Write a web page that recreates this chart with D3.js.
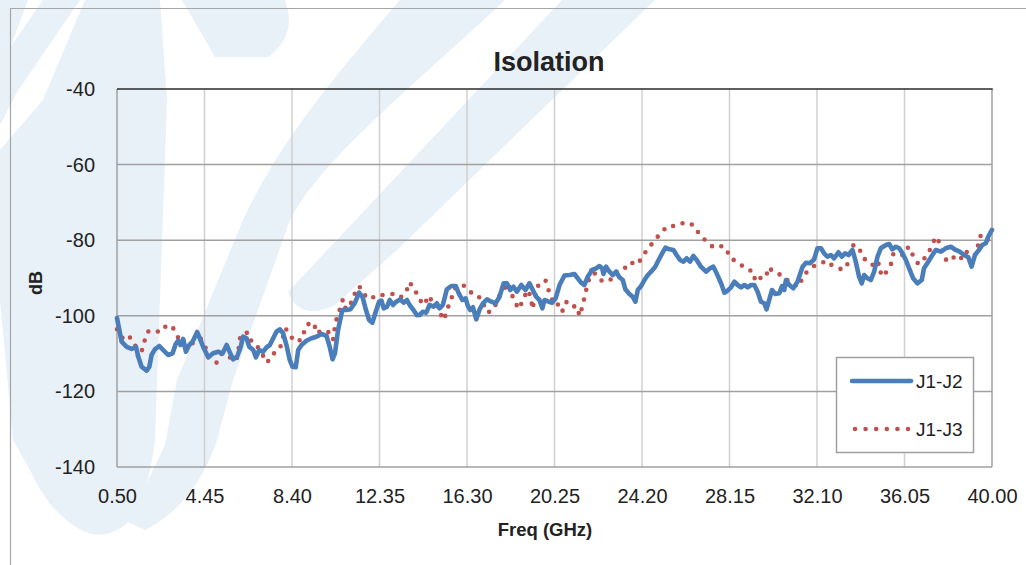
<!DOCTYPE html>
<html>
<head>
<meta charset="utf-8">
<script src="https://cdn.jsdelivr.net/npm/d3@7"></script>
<style>
  html, body { margin: 0; padding: 0; background: #fff; }
  svg { display: block; }
  text { font-family: "Liberation Sans", Arial, sans-serif; fill: #222; }
</style>
</head>
<body>
<svg id="chart" width="1026" height="565"></svg>
<script>
// ---------------- data ----------------
const chartTitle = "Isolation";
const xTitle = "Freq (GHz)";
const yTitle = "dB";
const seriesNames = ["J1-J2", "J1-J3"];
const xTicks = [0.50, 4.45, 8.40, 12.35, 16.30, 20.25, 24.20, 28.15, 32.10, 36.05, 40.00];
const yTicks = [-140, -120, -100, -80, -60, -40];

const freqJ12 = [0.50,0.71,0.94,1.16,1.36,1.46,1.61,1.84,1.96,2.06,2.21,2.41,2.59,2.81,3.01,3.15,3.26,3.37,3.49,3.61,3.76,3.91,4.12,4.27,4.42,4.62,4.84,5.07,5.27,5.45,5.60,5.74,5.92,6.08,6.19,6.35,6.47,6.65,6.77,6.92,7.10,7.25,7.40,7.55,7.70,7.85,8.00,8.15,8.30,8.42,8.57,8.68,8.83,9.05,9.28,9.50,9.73,9.96,10.10,10.23,10.34,10.48,10.67,10.86,11.04,11.23,11.43,11.58,11.73,11.88,12.03,12.18,12.33,12.44,12.54,12.69,12.81,12.96,13.11,13.29,13.44,13.59,13.71,13.86,14.04,14.16,14.31,14.46,14.61,14.79,14.94,15.06,15.21,15.39,15.59,15.79,15.93,16.09,16.24,16.34,16.45,16.57,16.72,16.87,17.02,17.20,17.40,17.59,17.77,17.95,18.10,18.25,18.40,18.55,18.75,18.94,19.12,19.27,19.42,19.57,19.70,19.80,19.99,20.15,20.30,20.48,20.70,20.93,21.15,21.30,21.45,21.60,21.75,21.95,22.13,22.28,22.40,22.46,22.58,22.73,22.88,23.03,23.18,23.33,23.45,23.63,23.78,23.90,24.01,24.16,24.31,24.46,24.61,24.80,24.95,25.11,25.26,25.44,25.62,25.76,25.92,26.07,26.22,26.37,26.52,26.67,26.86,27.09,27.27,27.42,27.57,27.77,27.92,28.06,28.22,28.37,28.52,28.67,28.82,28.97,29.12,29.27,29.42,29.57,29.72,29.82,29.94,30.07,30.22,30.40,30.52,30.62,30.70,30.85,31.03,31.22,31.45,31.60,31.78,31.97,32.12,32.28,32.42,32.57,32.73,32.87,33.07,33.22,33.37,33.52,33.70,33.85,34.00,34.12,34.23,34.38,34.53,34.68,34.83,34.98,35.21,35.36,35.50,35.66,35.81,35.96,36.11,36.26,36.44,36.63,36.83,36.93,37.08,37.28,37.46,37.69,37.91,38.14,38.36,38.54,38.74,38.93,39.08,39.23,39.41,39.56,39.72,39.83,40.00];
const dbJ12 = [-100.58,-106.85,-108.25,-108.78,-108.25,-110.82,-113.47,-114.52,-113.47,-110.37,-108.86,-107.99,-109.05,-110.37,-109.92,-107.46,-106.59,-107.73,-106.14,-109.50,-107.73,-106.85,-104.29,-106.40,-108.60,-110.98,-109.92,-109.50,-109.92,-107.73,-109.76,-111.51,-110.82,-108.33,-105.53,-105.95,-108.17,-109.05,-110.98,-109.05,-109.50,-108.33,-107.73,-105.95,-104.21,-103.57,-104.63,-107.73,-111.70,-113.47,-113.62,-109.05,-107.73,-106.59,-105.95,-105.53,-104.81,-105.34,-108.17,-111.51,-109.92,-103.76,-98.47,-98.47,-98.28,-96.69,-93.89,-94.95,-98.28,-101.11,-101.82,-98.92,-96.27,-96.01,-98.02,-97.59,-95.82,-97.14,-96.27,-95.63,-96.53,-95.82,-97.14,-98.28,-99.87,-99.79,-98.92,-99.18,-97.14,-97.59,-96.69,-98.02,-97.14,-92.99,-92.12,-92.12,-94.05,-95.82,-95.37,-97.41,-98.47,-97.75,-100.93,-98.28,-96.69,-95.63,-96.27,-96.69,-94.95,-91.40,-91.40,-93.17,-92.30,-93.62,-91.85,-93.17,-91.40,-93.17,-94.95,-95.82,-98.02,-95.82,-96.27,-96.53,-95.37,-91.85,-89.34,-89.21,-88.94,-90.08,-91.24,-91.85,-89.66,-87.88,-87.43,-86.83,-87.43,-88.94,-87.01,-88.33,-89.21,-88.33,-89.81,-90.53,-92.99,-94.23,-94.95,-96.27,-93.17,-92.12,-90.53,-89.21,-88.33,-87.01,-85.24,-83.47,-81.98,-82.41,-82.59,-83.92,-85.24,-85.69,-84.79,-85.69,-84.18,-85.24,-87.01,-88.33,-87.43,-87.01,-88.76,-91.40,-93.89,-93.36,-92.46,-90.98,-91.85,-92.46,-91.85,-92.46,-91.85,-91.85,-93.62,-96.27,-96.69,-98.28,-95.82,-93.17,-94.23,-94.05,-92.12,-93.17,-90.53,-91.85,-92.72,-90.98,-87.01,-85.95,-86.11,-85.05,-82.14,-82.14,-83.47,-84.37,-83.92,-84.79,-83.20,-84.37,-83.47,-83.92,-82.59,-85.69,-89.66,-91.40,-89.21,-90.08,-90.53,-88.33,-84.37,-82.14,-81.27,-81.00,-82.41,-81.72,-82.14,-83.47,-85.24,-87.43,-90.08,-91.40,-90.53,-87.43,-86.11,-84.18,-82.59,-83.04,-82.14,-81.72,-82.59,-83.04,-83.92,-84.52,-87.01,-83.92,-82.59,-81.27,-80.82,-79.07,-77.30];

const freqJ13 = [0.50,0.76,0.96,1.16,1.36,1.46,1.61,1.73,1.88,2.18,2.44,2.71,2.98,3.19,3.42,3.69,3.94,4.27,4.50,4.63,4.99,5.22,5.47,5.74,5.90,5.99,6.05,6.23,6.47,6.59,6.89,7.04,7.21,7.46,7.66,7.88,8.00,8.11,8.30,8.45,8.72,8.87,8.98,9.14,9.32,9.53,9.65,9.80,10.03,10.25,10.32,10.41,10.56,10.70,10.83,10.97,11.19,11.31,11.49,11.68,11.94,12.21,12.48,12.69,12.99,13.29,13.56,13.68,13.94,14.09,14.39,14.54,14.66,14.88,15.03,15.28,15.37,15.59,15.66,15.89,16.11,16.34,16.61,16.94,17.06,17.24,17.54,17.67,17.92,18.14,18.30,18.46,18.67,18.82,19.05,19.20,19.25,19.50,19.84,19.99,20.15,20.30,20.48,20.62,20.80,21.05,21.26,21.38,21.50,21.60,21.71,21.83,21.95,22.10,22.31,22.55,22.70,22.85,23.03,23.23,23.45,23.68,23.93,24.20,24.43,24.73,25.03,25.36,25.74,26.16,26.53,26.79,27.09,27.42,27.70,27.99,28.17,28.40,28.61,28.89,29.24,29.31,29.57,29.80,29.90,30.17,30.36,30.63,30.89,31.12,31.30,31.45,31.72,31.97,32.23,32.53,32.77,33.02,33.28,33.47,33.55,33.75,34.00,34.15,34.35,34.53,34.71,34.90,34.98,35.10,35.28,35.46,35.55,35.77,36.03,36.23,36.44,36.68,36.86,37.08,37.28,37.46,37.65,37.76,37.98,38.32,38.56,38.77,38.99,39.22,39.36,39.47,39.74,39.91];
const dbJ13 = [-103.57,-105.95,-105.08,-106.14,-108.33,-110.98,-109.50,-106.85,-104.21,-103.76,-104.37,-102.70,-102.62,-105.08,-107.28,-108.17,-107.12,-105.95,-108.44,-111.09,-112.41,-110.11,-110.11,-111.96,-111.51,-108.78,-105.95,-104.37,-104.63,-107.28,-108.44,-109.76,-112.30,-111.51,-109.05,-108.17,-105.53,-103.31,-105.08,-106.22,-106.85,-104.37,-104.37,-102.17,-103.57,-102.43,-104.47,-104.37,-104.21,-106.40,-103.57,-100.93,-98.28,-95.63,-98.28,-97.67,-95.11,-92.46,-92.46,-94.50,-95.63,-94.50,-94.50,-94.31,-94.23,-95.21,-93.78,-91.14,-92.72,-95.37,-97.14,-94.68,-95.63,-96.27,-98.92,-101.11,-98.47,-96.08,-93.36,-92.04,-91.85,-92.72,-94.76,-95.21,-97.14,-99.18,-98.02,-95.37,-93.62,-91.24,-93.89,-96.53,-98.20,-95.63,-93.17,-95.37,-98.28,-92.12,-90.53,-93.36,-95.82,-97.41,-96.69,-98.73,-96.27,-97.59,-97.41,-100.05,-97.75,-95.21,-92.46,-89.81,-87.17,-89.21,-90.53,-91.06,-90.53,-90.26,-88.49,-87.43,-87.27,-85.77,-86.56,-84.79,-82.41,-80.40,-78.17,-76.24,-76.24,-75.19,-76.06,-78.44,-80.21,-81.88,-81.45,-81.98,-84.63,-85.42,-86.22,-87.62,-88.33,-90.98,-89.92,-89.92,-87.17,-88.49,-88.76,-90.34,-90.79,-91.85,-92.30,-89.66,-87.88,-86.83,-86.30,-85.42,-86.64,-87.27,-87.88,-86.38,-83.65,-81.27,-81.88,-84.52,-85.42,-85.77,-87.43,-86.11,-88.60,-89.66,-87.88,-86.11,-83.47,-83.92,-83.92,-81.72,-84.10,-86.38,-85.42,-83.92,-81.53,-79.07,-80.82,-83.47,-85.69,-84.37,-85.24,-82.86,-83.47,-84.18,-81.53,-78.89,-78.81,-81.53];

// ---------------- drawing ----------------
const svg = d3.select("#chart");
const W = 1026, H = 565;
const plot = { left: 117, right: 992, top: 89, bottom: 467 };

// faint watermark (background decoration)
const wm = svg.append("g").attr("fill", "#e8f0f8");
const wmPaths = [
  "M0,0 L28,0 L0,75 Z",
  "M43,0 L80,0 L17,92 L0,125 L0,62 Z",
  "M85,0 L160,0 L167,100 L155,440 Q148,500 125,525 Q105,540 85,532 Q50,515 30,470 L13,440 L0,300 L0,150 L43,100 Z",
  "M400,0 L505,0 C420,80 320,160 290,220 L233,380 L217,440 Q195,505 145,530 L128,522 L165,445 L177,380 L243,220 C280,140 340,70 400,0 Z",
  "M182,0 L285,0 Q298,35 268,57 L215,57 Z",
  "M562,0 L655,0 L397,250 L335,305 Q300,322 288,292 Z"
];
wm.selectAll("path").data(wmPaths).join("path").attr("d", d => d);

// outer chart border
svg.append("path").attr("d", `M10.5,${H} L10.5,8.5 L${W},8.5`)
  .attr("fill", "none").attr("stroke", "#a6a6a6").attr("stroke-width", 1.2);

const x = d3.scaleLinear().domain([0.5, 40]).range([plot.left, plot.right]);
const y = d3.scaleLinear().domain([-140, -40]).range([plot.bottom, plot.top]);

// vertical gridlines
svg.append("g").selectAll("line").data(xTicks.slice(1, -1)).join("line")
  .attr("x1", d => x(d)).attr("x2", d => x(d))
  .attr("y1", plot.top).attr("y2", plot.bottom)
  .attr("stroke", "#d0d0d0").attr("stroke-width", 1.5);
// horizontal gridlines
svg.append("g").selectAll("line").data(yTicks.slice(1, -1)).join("line")
  .attr("x1", plot.left).attr("x2", plot.right)
  .attr("y1", d => y(d)).attr("y2", d => y(d))
  .attr("stroke", "#a0a0a0").attr("stroke-width", 1.5);

// plot frame
svg.append("line").attr("x1", plot.left).attr("x2", plot.left).attr("y1", plot.top).attr("y2", plot.bottom)
  .attr("stroke", "#a0a0a0").attr("stroke-width", 1.5);
svg.append("line").attr("x1", plot.right).attr("x2", plot.right).attr("y1", plot.top).attr("y2", plot.bottom)
  .attr("stroke", "#a0a0a0").attr("stroke-width", 1.5);
svg.append("line").attr("x1", plot.left).attr("x2", plot.right).attr("y1", plot.bottom).attr("y2", plot.bottom)
  .attr("stroke", "#a0a0a0").attr("stroke-width", 1.5);
svg.append("line").attr("x1", plot.left).attr("x2", plot.right + 0.75).attr("y1", plot.top).attr("y2", plot.top)
  .attr("stroke", "#2a2a2a").attr("stroke-width", 1.6);

// axes labels via d3 axes (domain and ticks hidden)
const xAxis = d3.axisBottom(x).tickValues(xTicks).tickFormat(d => d.toFixed(2)).tickSize(0).tickPadding(22);
const gx = svg.append("g").attr("transform", `translate(0,${plot.bottom})`).call(xAxis);
gx.select(".domain").remove();
gx.selectAll("text").attr("font-size", 20).attr("fill", "#222")
  .attr("font-family", "Liberation Sans, Arial, sans-serif");

const yAxis = d3.axisLeft(y).tickValues(yTicks).tickFormat(d => String(d)).tickSize(0).tickPadding(22);
const gy = svg.append("g").attr("transform", `translate(${plot.left},0)`).call(yAxis);
gy.select(".domain").remove();
gy.selectAll("text").attr("font-size", 20).attr("fill", "#222")
  .attr("font-family", "Liberation Sans, Arial, sans-serif");

// series
const s12 = freqJ12.map((f, i) => [f, dbJ12[i]]);
const s13 = freqJ13.map((f, i) => [f, dbJ13[i]]);
const line = d3.line().x(d => x(d[0])).y(d => y(d[1]));

svg.append("path").datum(s13).attr("d", line)
  .attr("fill", "none").attr("stroke", "#c0504d").attr("stroke-width", 4.6)
  .attr("stroke-linecap", "round").attr("stroke-dasharray", "0 10");
svg.append("path").datum(s12).attr("d", line)
  .attr("fill", "none").attr("stroke", "#4a7ebb").attr("stroke-width", 4.6)
  .attr("stroke-linejoin", "round").attr("stroke-linecap", "round");

// titles
svg.append("text").attr("x", 549).attr("y", 71).attr("text-anchor", "middle")
  .attr("font-size", 27).attr("font-weight", "bold").text(chartTitle);
svg.append("text").attr("x", 545).attr("y", 536).attr("text-anchor", "middle")
  .attr("font-size", 18.5).attr("font-weight", "bold").text(xTitle);
svg.append("text").attr("transform", "translate(42,283) rotate(-90)").attr("text-anchor", "middle")
  .attr("font-size", 18).attr("font-weight", "bold").text(yTitle);

// legend
const lg = svg.append("g");
lg.append("rect").attr("x", 836.5).attr("y", 357.5).attr("width", 137).attr("height", 95)
  .attr("fill", "#fff").attr("stroke", "#a0a0a0").attr("stroke-width", 1.5);
const legendItems = [
  { name: seriesNames[0], color: "#4a7ebb", dash: null, y: 381 },
  { name: seriesNames[1], color: "#c0504d", dash: "0 10.6", y: 429 }
];
legendItems.forEach(it => {
  const l = lg.append("line").attr("x1", 852).attr("x2", 911).attr("y1", it.y).attr("y2", it.y)
    .attr("stroke", it.color).attr("stroke-width", 4.6).attr("stroke-linecap", "round");
  if (it.dash) l.attr("x1", 855).attr("x2", 915).attr("stroke-dasharray", it.dash);
  lg.append("text").attr("x", 916).attr("y", it.y + 7).attr("font-size", 19).text(it.name);
});
</script>
</body>
</html>
